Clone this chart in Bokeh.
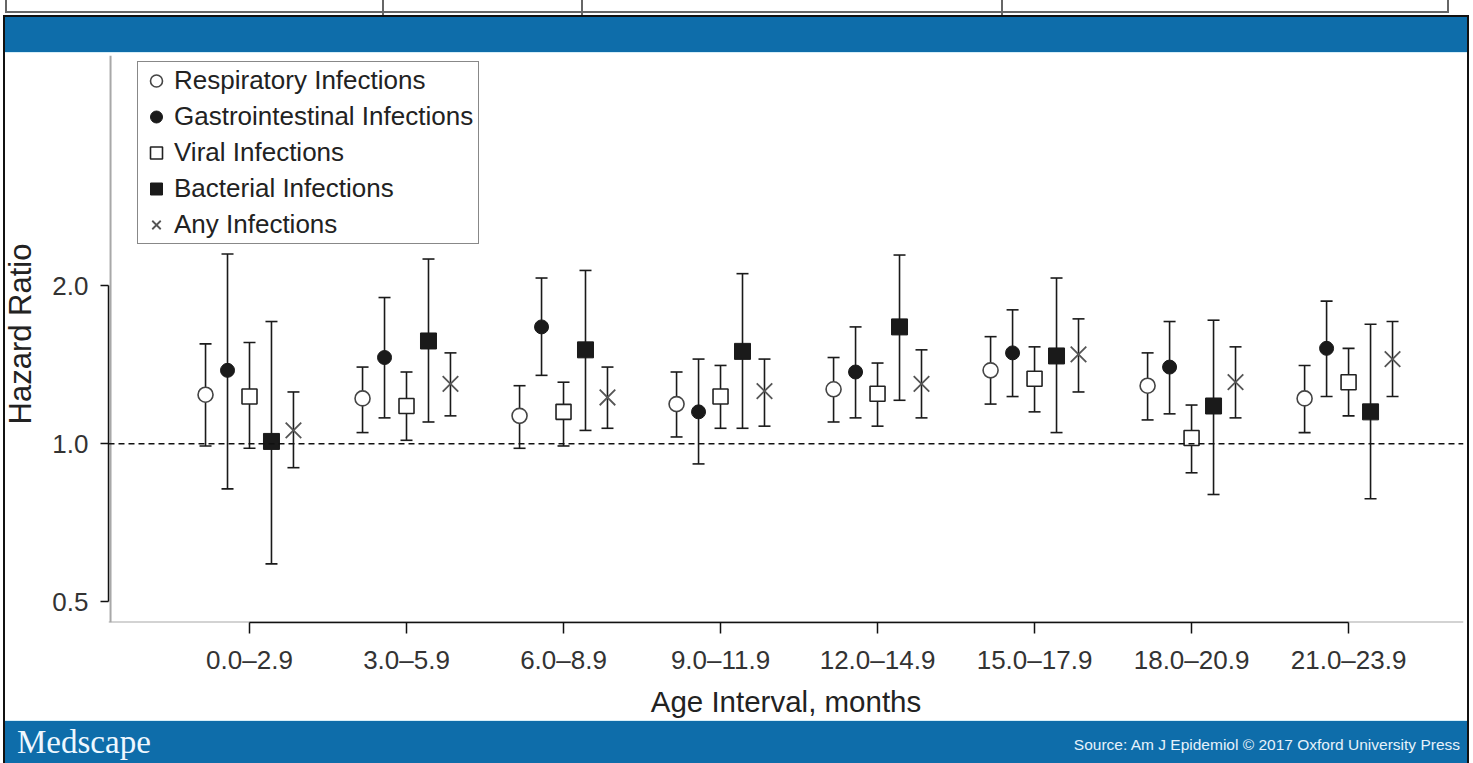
from bokeh.plotting import figure
from bokeh.models import (Range1d, FixedTicker, NumeralTickFormatter, Span, Legend,
                          LegendItem, ColumnDataSource, Div)
from bokeh.layouts import column, row
from bokeh.embed import file_html
from bokeh.resources import INLINE

# ---------------- data ----------------
categories = ["0.0–2.9", "3.0–5.9", "6.0–8.9", "9.0–11.9",
              "12.0–14.9", "15.0–17.9", "18.0–20.9", "21.0–23.9"]

resp_hr = [1.24, 1.22, 1.13, 1.19, 1.27, 1.38, 1.29, 1.22]
resp_lo = [0.99, 1.05, 0.98, 1.03, 1.10, 1.19, 1.11, 1.05]
resp_hi = [1.55, 1.40, 1.29, 1.37, 1.46, 1.60, 1.49, 1.41]

gi_hr = [1.38, 1.46, 1.67, 1.15, 1.37, 1.49, 1.40, 1.52]
gi_lo = [0.82, 1.12, 1.35, 0.915, 1.12, 1.23, 1.14, 1.23]
gi_hi = [2.30, 1.90, 2.07, 1.45, 1.67, 1.80, 1.71, 1.87]

viral_hr = [1.23, 1.18, 1.15, 1.23, 1.245, 1.33, 1.025, 1.31]
viral_lo = [0.98, 1.015, 0.99, 1.07, 1.08, 1.15, 0.88, 1.13]
viral_hi = [1.56, 1.37, 1.31, 1.41, 1.425, 1.53, 1.185, 1.52]

bact_hr = [1.01, 1.57, 1.51, 1.50, 1.67, 1.47, 1.18, 1.15]
bact_lo = [0.59, 1.10, 1.06, 1.07, 1.21, 1.05, 0.80, 0.785]
bact_hi = [1.71, 2.25, 2.14, 2.11, 2.29, 2.07, 1.72, 1.69]

any_hr = [1.06, 1.30, 1.225, 1.26, 1.30, 1.48, 1.31, 1.45]
any_lo = [0.90, 1.13, 1.07, 1.08, 1.12, 1.255, 1.12, 1.23]
any_hi = [1.255, 1.49, 1.40, 1.45, 1.51, 1.73, 1.53, 1.71]

series_names = ["Respiratory Infections", "Gastrointestinal Infections",
                "Viral Infections", "Bacterial Infections", "Any Infections"]

y_ticks = [0.5, 1.0, 2.0]

x_title = "Age Interval, months"
y_title = "Hazard Ratio"
source_text = "Source: Am J Epidemiol © 2017 Oxford University Press"
brand_text = "Medscape"

# ---------------- styles ----------------
BLUE = "#0e6daa"
PALE = "#d6eef8"
BLACK = "#111111"
FONT = "Liberation Sans"
W = 1473
MAIN_H = 665
LEFT_W = 40
RIGHT_W = 6
OFFSET = 0.14  # horizontal dodge between series within a group

styles = [
    dict(marker="circle", size=15, fill_color="white", line_color="#444444", line_width=1.6),
    dict(marker="circle", size=14, fill_color="#1a1a1a", line_color="#1a1a1a", line_width=1),
    dict(marker="square", size=15, fill_color="white", line_color="#222222", line_width=1.6),
    dict(marker="square", size=16, fill_color="#1a1a1a", line_color="#1a1a1a", line_width=1),
    dict(marker="x", size=22, fill_color=None, line_color="#555555", line_width=1.8),
]
all_series = [(resp_hr, resp_lo, resp_hi), (gi_hr, gi_lo, gi_hi),
              (viral_hr, viral_lo, viral_hi), (bact_hr, bact_lo, bact_hi),
              (any_hr, any_lo, any_hi)]


def box(left, top, width, height, color, extra=""):
    return (f'<div style="position:absolute;left:{left}px;top:{top}px;width:{width}px;'
            f'height:{height}px;background:{color};{extra}"></div>')


def wrap(parts, width, height):
    return (f'<div style="position:relative;width:{width}px;height:{height}px;overflow:hidden;'
            f'background:white;">' + "".join(parts) + "</div>")


# ---------------- top band (screen y 0..55) ----------------
top_parts = [
    box(5, 0, 1444, 13, "white", "border:2px solid #666;border-top:none;"),
    box(382, 0, 2, 15, "#666"), box(581, 0, 2, 15, "#666"), box(1001, 0, 2, 15, "#666"),
    box(3, 15, 1466, 2, BLACK),
    box(3, 17, 1466, 35, BLUE),
    box(3, 52, 1466, 1, PALE),
    box(3, 15, 2, 40, BLACK), box(1467, 15, 2, 40, BLACK),
]
top_div = Div(text=wrap(top_parts, W, 55), width=W, height=55, margin=0)

# ---------------- main chart (screen y 55..720) ----------------
PW = W - LEFT_W - RIGHT_W
p = figure(width=PW, height=MAIN_H, x_range=Range1d(0.102, 8.732), y_range=Range1d(0.456, 5.5),
           y_axis_type="log", output_backend="svg", toolbar_location=None,
           min_border_left=108 - LEFT_W, min_border_right=4, min_border_top=0, min_border_bottom=97)
p.grid.visible = False
p.outline_line_color = None
p.background_fill_color = "white"
p.border_fill_color = "white"

# frame lines (grey) and reference line
p.add_layout(Span(location=0.115, dimension="height", line_color="#a8a8a8", line_width=2, level="underlay"))
p.add_layout(Span(location=0.456, dimension="width", line_color="#a8a8a8", line_width=2, level="underlay"))
p.add_layout(Span(location=1.0, dimension="width", line_color=BLACK, line_width=1.5, line_dash="6 4"))

legend_items = []
for k, ((hr, lo, hi), st, name) in enumerate(zip(all_series, styles, series_names)):
    xs = [i + 1 + (k - 2) * OFFSET for i in range(len(categories))]
    src = ColumnDataSource(dict(x=xs, hr=hr, lo=lo, hi=hi))
    p.segment(x0="x", y0="lo", x1="x", y1="hi", source=src, line_color="#1a1a1a", line_width=1.6)
    p.scatter(x="x", y="lo", source=src, marker="dash", size=12, line_color="#1a1a1a", line_width=1.6)
    p.scatter(x="x", y="hi", source=src, marker="dash", size=12, line_color="#1a1a1a", line_width=1.6)
    r = p.scatter(x="x", y="hr", source=src, **st)
    legend_items.append(LegendItem(label=name, renderers=[r]))

legend = Legend(items=legend_items, location=(29, 378), orientation="vertical",
                label_text_font=FONT, label_text_font_size="26px", label_text_color="#222222",
                glyph_width=30, glyph_height=31, label_height=31, label_width=301,
                spacing=5, padding=3,
                label_standoff=3, margin=0, border_line_color=BLACK, border_line_width=1.5,
                background_fill_color="white", background_fill_alpha=1.0)
p.add_layout(legend, "center")

xa = p.xaxis[0]
xa.ticker = FixedTicker(ticks=list(range(1, len(categories) + 1)))
xa.major_label_overrides = {i + 1: c for i, c in enumerate(categories)}
xa.bounds = (1, len(categories))
xa.axis_line_color = BLACK
xa.axis_line_width = 1.5
xa.major_tick_line_color = BLACK
xa.major_tick_line_width = 1.5
xa.major_tick_out = 11
xa.major_tick_in = 0
xa.minor_tick_out = 0
xa.minor_tick_in = 0
xa.major_label_standoff = 11
xa.major_label_text_font = FONT
xa.major_label_text_font_size = "26px"
xa.major_label_text_color = "#333333"
xa.axis_label = x_title
xa.axis_label_text_font = FONT
xa.axis_label_text_font_size = "29.5px"
xa.axis_label_text_font_style = "normal"
xa.axis_label_text_color = "#222222"
xa.axis_label_standoff = 7

ya = p.yaxis[0]
ya.ticker = FixedTicker(ticks=y_ticks, minor_ticks=[])
ya.formatter = NumeralTickFormatter(format="0.0")
ya.bounds = (min(y_ticks), max(y_ticks))
ya.axis_line_color = BLACK
ya.axis_line_width = 1.5
ya.major_tick_line_color = BLACK
ya.major_tick_line_width = 1.5
ya.major_tick_out = 8
ya.major_tick_in = 0
ya.minor_tick_out = 0
ya.minor_tick_in = 0
ya.major_label_standoff = 12
ya.major_label_text_font = FONT
ya.major_label_text_font_size = "26px"
ya.major_label_text_color = "#333333"

# left strip: page border line + rotated y-axis title (real text)
left_parts = [
    box(3, 0, 2, MAIN_H, BLACK),
    f'<div style="position:absolute;left:20px;top:279px;transform:translate(-50%,-50%) rotate(-90deg);'
    f'white-space:nowrap;font-family:\'Liberation Sans\';font-size:31px;line-height:1;color:#222222;">'
    f'{y_title}</div>',
]
left_edge = Div(text=wrap(left_parts, LEFT_W, MAIN_H), width=LEFT_W, height=MAIN_H, margin=0)
right_edge = Div(text=wrap([box(0, 0, 2, MAIN_H, BLACK)], RIGHT_W, MAIN_H),
                 width=RIGHT_W, height=MAIN_H, margin=0)
middle = row(left_edge, p, right_edge, spacing=0)

# ---------------- bottom band (screen y 720..763) ----------------
bottom_parts = [
    box(3, 0, 1466, 43, BLUE),
    box(3, 0, 1466, 1, PALE),
    box(3, 0, 2, 43, BLACK), box(1467, 0, 2, 43, BLACK),
    f'<div style="position:absolute;left:17px;top:6px;font-family:\'Liberation Serif\';font-size:33px;'
    f'line-height:33px;color:#eef8ff;white-space:nowrap;">{brand_text}</div>',
    f'<div style="position:absolute;right:13px;top:17px;font-family:\'Liberation Sans\';font-size:15.5px;'
    f'line-height:15.5px;color:#e6f2fb;white-space:nowrap;">{source_text}</div>',
]
bottom_div = Div(text=wrap(bottom_parts, W, 43), width=W, height=43, margin=0)

layout = column(top_div, middle, bottom_div, spacing=0)
open("out.html", "w").write(file_html(layout, INLINE))
